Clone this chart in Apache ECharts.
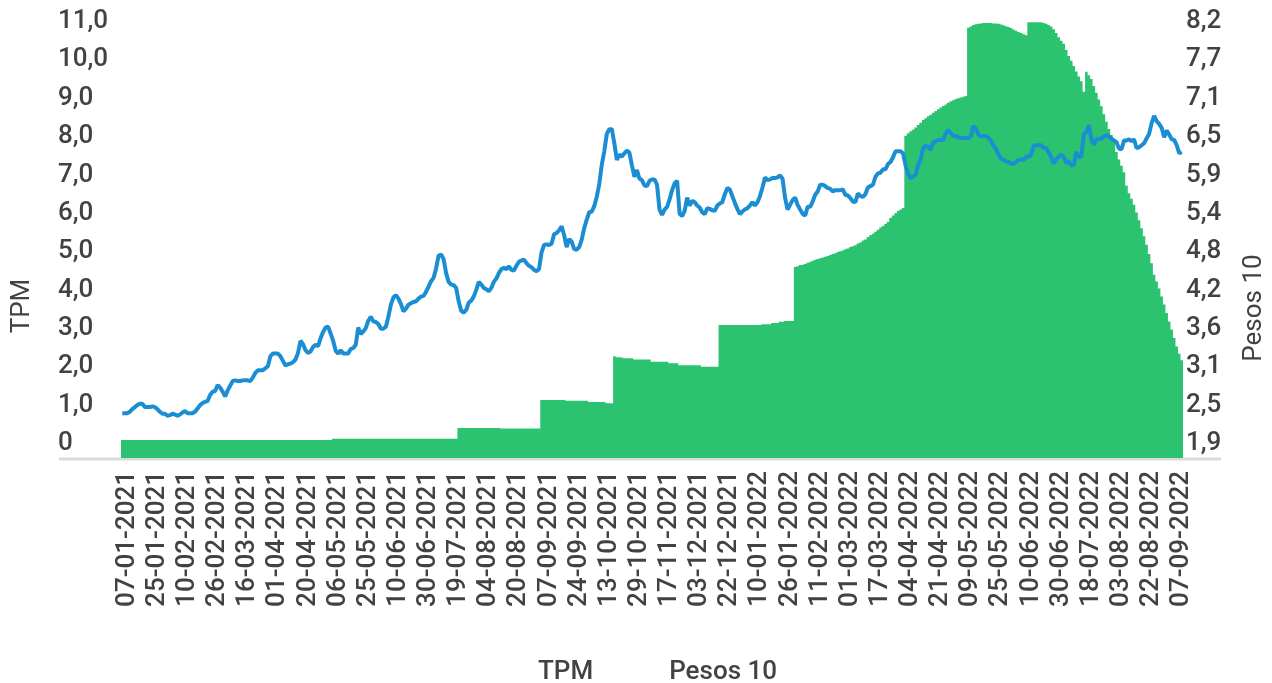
<!DOCTYPE html>
<html>
<head>
<meta charset="utf-8">
<title>TPM y Pesos 10</title>
<script src="https://cdn.jsdelivr.net/npm/echarts@6/dist/echarts.min.js"></script>
<style>
  html, body { margin: 0; padding: 0; background: #fff; }
  #chart { width: 1272px; height: 683px; }
</style>
</head>
<body>
<div id="chart"></div>
<script>
// Business days shown on the x axis (weekdays minus market holidays)
const firstDay = '2021-01-05';
const lastDay = '2022-09-07';
const holidays = [
  '2021-04-02', '2021-05-21', '2021-06-21', '2021-06-28', '2021-07-16',
  '2021-09-17', '2021-10-11', '2021-11-01', '2021-12-08', '2021-12-31',
  '2022-04-15', '2022-06-21', '2022-06-27', '2022-08-15'
];

// Tick labels
const tpmTicks = ['0', '1,0', '2,0', '3,0', '4,0', '5,0', '6,0', '7,0', '8,0', '9,0', '10,0', '11,0'];
const pesosTicks = ['1,9', '2,5', '3,1', '3,6', '4,2', '4,8', '5,4', '5,9', '6,5', '7,1', '7,7', '8,2'];

// TPM (green columns, left axis)
const tpm = [
  0.47,0.47,0.47,0.47,0.47,0.47,0.47,0.47,0.47,0.47,0.47,0.47,0.47,0.47,0.47,0.47,0.47,0.47,0.47,0.47,
  0.47,0.47,0.47,0.47,0.47,0.47,0.47,0.47,0.47,0.47,0.47,0.47,0.47,0.47,0.47,0.47,0.47,0.47,0.47,0.47,
  0.47,0.47,0.47,0.47,0.47,0.47,0.47,0.47,0.47,0.47,0.47,0.47,0.47,0.47,0.47,0.47,0.47,0.47,0.47,0.47,
  0.47,0.47,0.47,0.47,0.47,0.47,0.47,0.47,0.47,0.47,0.47,0.47,0.47,0.47,0.47,0.47,0.47,0.47,0.47,0.47,
  0.47,0.47,0.47,0.47,
  0.50,0.50,0.50,0.50,0.50,0.50,0.50,0.50,0.50,0.50,0.50,0.50,0.50,0.50,0.50,0.50,0.50,0.50,0.50,0.50,
  0.50,0.50,0.50,0.50,0.50,0.50,0.50,0.50,0.50,0.50,0.50,0.50,0.50,0.50,0.50,0.50,0.50,0.50,0.50,0.50,
  0.50,0.50,0.50,0.50,0.50,0.50,0.50,0.50,0.50,0.50,
  0.78,0.78,0.78,0.78,0.78,0.78,0.78,0.78,0.78,0.78,0.78,0.78,0.78,0.78,0.78,0.78,0.78,
  0.77,0.77,0.77,0.77,0.77,0.77,0.77,0.77,0.77,0.77,0.77,0.77,0.77,0.77,0.77,0.77,
  1.51,1.51,1.51,1.51,1.51,1.51,1.51,1.51,1.51,1.51,
  1.49,1.49,1.49,1.49,1.49,1.49,1.49,1.49,1.49,
  1.46,1.46,1.46,1.46,1.46,1.46,1.46,
  1.43,1.43,1.43,
  2.65,2.63,2.63,2.62,
  2.60,2.60,2.60,2.60,
  2.57,2.57,2.57,2.57,2.57,2.57,2.57,
  2.51,2.51,2.51,2.51,2.51,2.51,2.51,
  2.47,2.47,2.47,2.47,
  2.42,2.42,2.42,2.42,2.42,2.42,2.42,2.42,2.42,
  2.38,2.38,2.38,2.38,2.38,2.38,2.38,
  3.47,3.47,3.47,3.47,3.47,3.47,3.47,3.47,3.47,3.47,3.47,3.47,3.47,3.47,3.47,3.47,3.47,
  3.49,3.49,3.49,3.49,
  3.52,3.52,3.52,
  3.55,3.55,
  3.57,3.57,3.57,3.57,
  4.98,5.00,5.03,5.04,5.06,5.09,5.11,5.14,5.17,5.19,
  5.21,5.23,5.25,5.27,5.29,5.32,5.34,5.37,5.39,5.41,
  5.44,5.46,5.50,5.52,5.55,5.59,5.62,5.67,5.70,5.76,
  5.81,5.85,5.90,5.95,6.01,6.05,6.10,6.16,6.26,6.32,
  6.38,6.44,6.48,6.52,
  8.40,8.47,8.52,8.56,8.62,8.68,8.74,8.81,8.86,8.91,
  8.95,9.00,9.05,9.09,9.14,9.18,9.22,9.26,9.30,9.33,
  9.36,9.38,9.40,9.42,9.44,
  11.22,11.25,11.29,11.31,11.32,11.33,11.34,11.34,11.34,11.34,
  11.33,11.33,11.32,11.30,11.28,11.26,11.24,11.21,11.17,11.14,
  11.11,11.08,11.05,11.02,
  11.36,11.36,11.36,11.36,11.36,11.36,11.34,11.32,
  11.29,11.25,11.18,11.08,10.97,10.88,10.80,10.64,10.48,10.36,
  10.22,10.08,9.95,9.82,9.55,10.07,9.98,9.88,9.70,9.52,
  9.35,9.17,8.96,8.77,8.58,8.42,8.25,7.98,7.78,7.62,
  7.45,7.10,6.90,6.76,6.60,6.40,6.20,5.99,5.78,5.56,
  5.32,5.08,4.78,4.60,4.42,4.21,4.00,3.78,3.56,3.35,
  3.13,2.91,2.72,2.55
];

// Pesos 10 (blue line, right axis)
const pesos10 = [
  2.57,2.57,2.57,2.59,2.63,2.66,2.69,2.71,2.71,2.66,
  2.66,2.66,2.67,2.66,2.63,2.59,2.56,2.56,2.53,2.54,
  2.56,2.55,2.53,2.55,2.58,2.60,2.57,2.57,2.57,2.59,
  2.64,2.69,2.72,2.74,2.75,2.84,2.89,2.90,2.99,2.95,
  2.89,2.82,2.91,2.98,3.05,3.06,3.05,3.05,3.06,3.06,
  3.06,3.05,3.10,3.17,3.21,3.21,3.21,3.24,3.27,3.42,
  3.46,3.46,3.46,3.42,3.35,3.28,3.30,3.31,3.33,3.37,
  3.47,3.65,3.60,3.51,3.47,3.49,3.56,3.59,3.57,3.69,
  3.78,3.85,3.86,3.76,3.65,3.50,3.46,3.51,3.46,3.46,
  3.46,3.53,3.54,3.59,3.85,3.75,3.79,3.84,3.95,4.01,
  3.94,3.93,3.90,3.83,3.83,3.86,4.01,4.19,4.30,4.33,
  4.28,4.20,4.09,4.13,4.19,4.21,4.23,4.24,4.28,4.31,
  4.32,4.38,4.46,4.54,4.59,4.73,4.92,4.94,4.87,4.66,
  4.53,4.49,4.48,4.44,4.24,4.10,4.07,4.11,4.22,4.25,
  4.31,4.41,4.53,4.49,4.44,4.42,4.39,4.44,4.53,4.58,
  4.66,4.72,4.74,4.72,4.76,4.71,4.70,4.77,4.83,4.85,
  4.86,4.81,4.77,4.75,4.71,4.69,4.72,4.97,5.08,5.09,
  5.08,5.10,5.24,5.26,5.30,5.36,5.23,5.05,5.17,5.13,
  5.02,5.01,5.05,5.16,5.33,5.46,5.57,5.58,5.66,5.80,
  5.99,6.28,6.48,6.74,6.81,6.81,6.60,6.35,6.43,6.40,
  6.45,6.49,6.46,6.27,6.10,6.20,6.07,6.05,5.97,5.96,
  6.04,6.06,6.06,5.98,5.61,5.53,5.61,5.65,5.76,5.90,
  6.00,6.04,5.55,5.51,5.59,5.79,5.67,5.74,5.72,5.67,
  5.64,5.57,5.54,5.63,5.62,5.60,5.59,5.67,5.70,5.72,
  5.84,5.93,5.91,5.81,5.71,5.62,5.54,5.58,5.61,5.63,
  5.67,5.72,5.67,5.72,5.81,5.94,6.09,6.05,6.06,6.08,
  6.08,6.09,6.12,6.07,5.79,5.61,5.68,5.75,5.79,5.68,
  5.61,5.55,5.52,5.65,5.65,5.73,5.83,5.88,5.98,5.98,
  5.96,5.93,5.92,5.88,5.90,5.90,5.90,5.91,5.83,5.82,
  5.78,5.73,5.72,5.85,5.81,5.80,5.84,5.94,5.96,5.98,
  6.10,6.15,6.16,6.21,6.21,6.29,6.32,6.39,6.48,6.48,
  6.48,6.45,6.27,6.14,6.08,6.10,6.13,6.28,6.36,6.53,
  6.56,6.55,6.50,6.61,6.63,6.65,6.65,6.65,6.75,6.80,
  6.75,6.71,6.71,6.69,6.68,6.68,6.68,6.68,6.70,6.86,
  6.82,6.73,6.70,6.71,6.71,6.68,6.64,6.56,6.52,6.43,
  6.37,6.35,6.33,6.32,6.30,6.29,6.32,6.35,6.36,6.35,
  6.40,6.40,6.43,6.56,6.57,6.57,6.57,6.53,6.53,6.46,
  6.39,6.30,6.36,6.40,6.43,6.39,6.31,6.33,6.27,6.27,
  6.47,6.40,6.40,6.73,6.77,6.87,6.66,6.58,6.66,6.66,
  6.67,6.70,6.72,6.70,6.67,6.64,6.62,6.52,6.51,6.64,
  6.64,6.66,6.63,6.66,6.53,6.54,6.57,6.60,6.67,6.74,
  6.90,7.01,6.93,6.89,6.83,6.69,6.79,6.73,6.66,6.65,
  6.57,6.45,6.47
];

function businessDays(from, to, skip) {
  const out = [];
  const d = new Date(from + 'T00:00:00Z');
  const end = new Date(to + 'T00:00:00Z');
  while (d <= end) {
    const iso = d.toISOString().slice(0, 10);
    const wd = d.getUTCDay();
    if (wd !== 0 && wd !== 6 && !skip.includes(iso)) {
      out.push(iso.slice(8, 10) + '-' + iso.slice(5, 7) + '-' + iso.slice(0, 4));
    }
    d.setUTCDate(d.getUTCDate() + 1);
  }
  return out;
}

const days = businessDays(firstDay, lastDay, holidays);

const FONT = 'Roboto';
const FS = 26;
const FW = 500;
const TEXT = '#424242';
const GREEN = '#2bc270';
const BLUE = '#1b8dd2';

// both value axes share 11 steps; a bit of headroom above the top tick
const leftMax = 11.42;
const rightStep = (8.2 - 1.9) / 11;
const rightMax = 1.9 + leftMax * rightStep;

// y labels sit above their tick, not centred on it
const yLabel = {
  showMaxLabel: false,
  align: 'left',
  verticalAlign: 'bottom',
  lineHeight: 29,
  fontFamily: FONT,
  fontSize: FS,
  fontWeight: FW,
  color: TEXT
};

const chart = echarts.init(document.getElementById('chart'));
chart.setOption({
  animation: false,
  textStyle: { fontFamily: FONT },
  grid: { left: 121, right: 89, top: 20, bottom: 225 },
  legend: {
    data: ['TPM', 'Pesos 10'],
    left: 528,
    top: 654,
    itemWidth: 0,
    itemHeight: 0,
    itemGap: 70,
    itemStyle: { opacity: 0 },
    lineStyle: { opacity: 0 },
    textStyle: { fontFamily: FONT, fontSize: FS, fontWeight: FW, color: TEXT }
  },
  xAxis: {
    type: 'category',
    data: days,
    boundaryGap: true,
    axisLine: { show: false },
    axisTick: { show: false },
    axisLabel: {
      rotate: 90,
      margin: 13,
      fontFamily: FONT,
      fontSize: FS,
      fontWeight: FW,
      color: TEXT,
      interval: (idx) => (idx - 2) % 12 === 0
    }
  },
  yAxis: [
    {
      type: 'value',
      min: 0,
      max: leftMax,
      interval: 1,
      splitLine: { show: false },
      axisLine: { show: false },
      axisTick: { show: false },
      axisLabel: Object.assign({}, yLabel, {
        margin: 63,
        formatter: (v, i) => tpmTicks[i] ?? ''
      })
    },
    {
      type: 'value',
      min: 1.9,
      max: rightMax,
      interval: rightStep,
      splitLine: { show: false },
      axisLine: { show: false },
      axisTick: { show: false },
      axisLabel: Object.assign({}, yLabel, {
        margin: 3,
        formatter: (v, i) => pesosTicks[i] ?? ''
      })
    }
  ],
  graphic: [
    {
      type: 'line',
      z: 0,
      shape: { x1: 59, y1: 459, x2: 1221, y2: 459 },
      style: { stroke: '#dadada', lineWidth: 3 }
    },
    {
      type: 'text',
      x: 22, y: 306,
      rotation: Math.PI / 2,
      style: { text: 'TPM', font: FS + 'px Roboto', fill: TEXT, textAlign: 'center', textVerticalAlign: 'middle' }
    },
    {
      type: 'text',
      x: 1254, y: 308,
      rotation: Math.PI / 2,
      style: { text: 'Pesos 10', font: FS + 'px Roboto', fill: TEXT, textAlign: 'center', textVerticalAlign: 'middle' }
    }
  ],
  series: [
    {
      name: 'TPM',
      type: 'bar',
      yAxisIndex: 0,
      data: tpm,
      large: true,
      largeThreshold: 100,
      barCategoryGap: 0,
      barGap: 0,
      itemStyle: { color: GREEN },
      emphasis: { disabled: true }
    },
    {
      name: 'Pesos 10',
      type: 'line',
      yAxisIndex: 1,
      data: pesos10,
      symbol: 'none',
      lineStyle: { color: BLUE, width: 4 },
      itemStyle: { color: BLUE },
      emphasis: { disabled: true }
    }
  ]
});
</script>
</body>
</html>
